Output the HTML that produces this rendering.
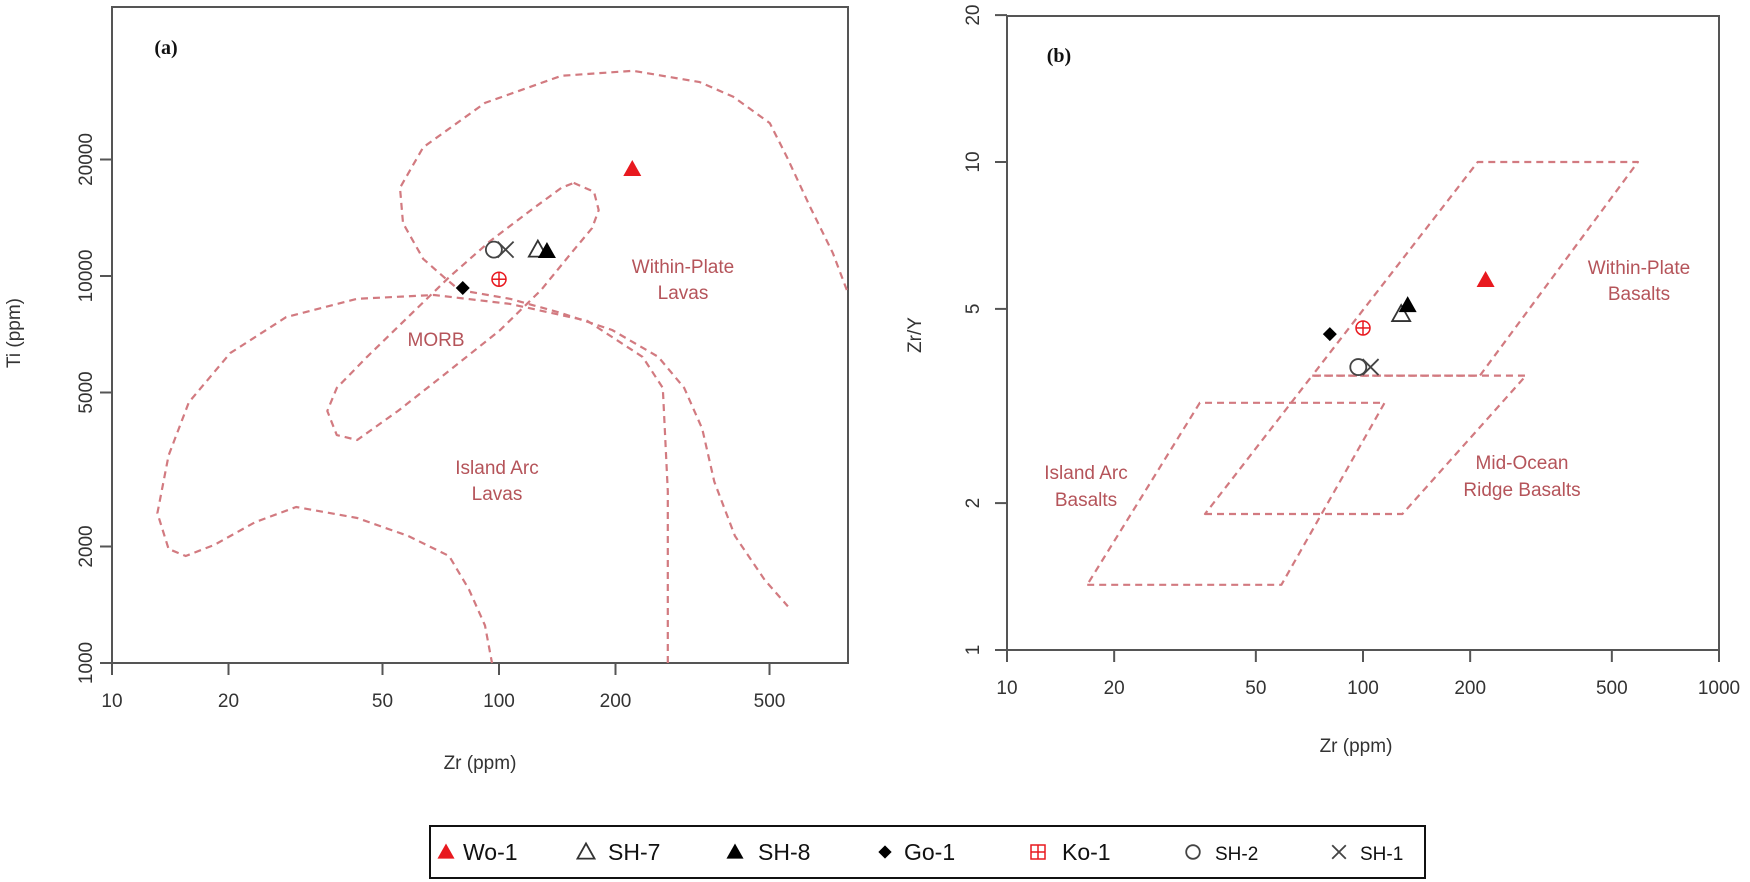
<!DOCTYPE html>
<html><head><meta charset="utf-8"><style>
body{margin:0;background:#fff;}
svg{display:block;font-family:"Liberation Sans",sans-serif;}
.tick{font-size:19px;fill:#333;}
.reg{font-size:19px;fill:#b5545a;}
</style></head><body>
<svg id="chart" width="1750" height="882" viewBox="0 0 1750 882">
<g id="pa"></g>
<g id="pb"></g>
<g id="legend"></g>
</svg>
<script>
// ---- data ----
const samples = ["Wo-1","SH-7","SH-8","Go-1","Ko-1","SH-2","SH-1"];
const zrA = [221,126,133,80.6,100,97,104];
const tiA = [18900,11700,11600,9310,9810,11700,11700];
const zrB = [221,128,133.5,80.7,100,97,105];
const zrYB = [5.73,4.88,5.09,4.44,4.57,3.80,3.80];
const xTicksA = [10,20,50,100,200,500];
const yTicksA = [1000,2000,5000,10000,20000];
const xTicksB = [10,20,50,100,200,500,1000];
const yTicksB = [1,2,5,10,20];
// field boundaries (Zr, Ti)
const wpZr = [792,729,637,555,501,403,330,222,145,92,63.7,55.5,56.5,63.7,72.1,78.9,106.7,145,196,258,301,335,360,407,486,558];
const wpTi = [9200,11450,15070,20280,24830,29040,31700,33900,32900,28000,21500,16900,13700,11070,9930,9200,8730,8020,7250,6180,5140,4030,2940,2130,1640,1400];
const iaZr = [273,273,265,235,169,106.7,67.9,43,28.2,20.2,15.8,14,13.1,14,15.5,18.4,23.4,29.9,43,58.2,74.3,83.6,92,95.9];
const iaTi = [1000,2780,5140,6180,7660,8470,8930,8730,7830,6320,4720,3440,2440,1970,1890,2020,2310,2530,2370,2130,1890,1550,1250,1000];
const mbZr = [156,176,181,174,153,128.5,100.7,74.3,54.8,43,38.1,36,38.1,45.6,58.2,74.3,94.8,121,145];
const mbTi = [17400,16500,14800,13300,11400,9200,7250,5690,4480,3770,3880,4480,5140,6180,7830,9930,12300,14800,16900];
// fields (Zr, Zr/Y)
const iabZr = [16.8,59,115,34.8];
const iabY = [1.36,1.36,3.21,3.21];
const morbZr = [36,129,287,72];
const morbY = [1.9,1.9,3.65,3.65];
const wpbZr = [72,213,592,210];
const wpbY = [3.65,3.65,10,10];

const NS="http://www.w3.org/2000/svg";
function mk(parent,tag,attrs){const e=document.createElementNS(NS,tag);for(const k in attrs)e.setAttribute(k,attrs[k]);parent.appendChild(e);return e;}
const L=Math.log10;
const A={x0:112,x1:848,y0:663,y1:7,sx:v=>112+(L(v)-1)*387,sy:v=>663-(L(v)-3)*387};
const B={x0:1007,x1:1719,y0:650,y1:16,sx:v=>1007+(L(v)-1)*356,sy:v=>650-L(v)*488};

function frame(g,P,xt,yt,ylx){
  const r=mk(g,'rect',{x:P.x0,y:P.y1,width:P.x1-P.x0,height:P.y0-P.y1,fill:'none',stroke:'#555','stroke-width':2});
  
  xt.forEach(v=>{const x=P.sx(v);
    mk(g,'line',{x1:x,x2:x,y1:P.y0,y2:P.y0+12,stroke:'#555','stroke-width':2});
    const t=mk(g,'text',{x:x,y:P.y0+44,'text-anchor':'middle',class:'tick'});t.textContent=v;
    });
  yt.forEach(v=>{const y=P.sy(v);
    mk(g,'line',{x1:P.x0-12,x2:P.x0,y1:y,y2:y,stroke:'#555','stroke-width':2});
    const t=mk(g,'text',{x:0,y:0,'text-anchor':'middle',class:'tick',transform:`translate(${ylx},${y}) rotate(-90)`});t.textContent=v;
    });
}
function field(g,P,xs,ys,closed,name){
  let d=xs.map((v,i)=>(i?'L':'M')+P.sx(v).toFixed(1)+','+P.sy(ys[i]).toFixed(1)).join(' ');
  if(closed)d+=' Z';
  const p=mk(g,'path',{d:d,fill:'none',stroke:'#d27a80','stroke-width':2.2,'stroke-dasharray':'7,5','stroke-linejoin':'round'});
  
}
function label(g,x,y,txt,name,cls,extra){
  const t=mk(g,'text',Object.assign({x:x,y:y,'text-anchor':'middle',class:cls||'reg'},extra||{}));t.textContent=txt;
  return t;
}
function marker(g,i,x,y,s){
  s=s||1;let e;
  if(i===0){e=mk(g,'polygon',{points:`${x},${y-9*s} ${x-9*s},${y+7*s} ${x+9*s},${y+7*s}`,fill:'#e8191f'});}
  else if(i===1){e=mk(g,'polygon',{points:`${x},${y-9*s} ${x-9*s},${y+7*s} ${x+9*s},${y+7*s}`,fill:'none',stroke:'#333','stroke-width':1.8});}
  else if(i===2){e=mk(g,'polygon',{points:`${x},${y-9*s} ${x-9*s},${y+7*s} ${x+9*s},${y+7*s}`,fill:'#000'});}
  else if(i===3){e=mk(g,'polygon',{points:`${x},${y-7*s} ${x+7*s},${y} ${x},${y+7*s} ${x-7*s},${y}`,fill:'#000'});}
  else if(i===4){e=mk(g,'g',{});mk(e,'circle',{cx:x,cy:y,r:7*s,fill:'none',stroke:'#e8191f','stroke-width':1.5});
    mk(e,'line',{x1:x-7*s,x2:x+7*s,y1:y,y2:y,stroke:'#e8191f','stroke-width':1.5});mk(e,'line',{x1:x,x2:x,y1:y-7*s,y2:y+7*s,stroke:'#e8191f','stroke-width':1.5});}
  else if(i===5){e=mk(g,'circle',{cx:x,cy:y,r:8*s,fill:'none',stroke:'#444','stroke-width':1.8});}
  else {e=mk(g,'g',{});mk(e,'line',{x1:x-8*s,x2:x+8*s,y1:y-8*s,y2:y+8*s,stroke:'#444','stroke-width':1.8});mk(e,'line',{x1:x-8*s,x2:x+8*s,y1:y+8*s,y2:y-8*s,stroke:'#444','stroke-width':1.8});}
  return e;
}

// panel a
const pa=document.getElementById('pa');
frame(pa,A,xTicksA,yTicksA,92);
field(pa,A,wpZr,wpTi,false,'within-plate-field');
field(pa,A,iaZr,iaTi,false,'island-arc-field');
field(pa,A,mbZr,mbTi,true,'morb-field');
label(pa,166,54,'(a)','panel-a-label','',{style:'font:bold 20px "Liberation Serif",serif;fill:#111'});
label(pa,683,273,'Within-Plate','within-plate-label');
label(pa,683,299,'Lavas','within-plate-label-2');
label(pa,436,346,'MORB','morb-label');
label(pa,497,474,'Island Arc','island-arc-label');
label(pa,497,500,'Lavas','island-arc-label-2');
label(pa,480,769,'Zr (ppm)','x-axis-title-a','tick');
label(pa,0,0,'Ti (ppm)','y-axis-title-a','tick',{transform:'translate(20,333) rotate(-90)'});
samples.forEach((s,i)=>{const m=marker(pa,i,A.sx(zrA[i]),A.sy(tiA[i]));
  });

// panel b
const pb=document.getElementById('pb');
frame(pb,B,xTicksB,yTicksB,979);
field(pb,B,iabZr,iabY,true,'island-arc-basalt-field');
field(pb,B,morbZr,morbY,true,'mid-ocean-ridge-field');
field(pb,B,wpbZr,wpbY,true,'within-plate-basalt-field');
label(pb,1059,62,'(b)','panel-b-label','',{style:'font:bold 20px "Liberation Serif",serif;fill:#111'});
label(pb,1639,274,'Within-Plate','wpb-label');
label(pb,1639,300,'Basalts','wpb-label-2');
label(pb,1522,469,'Mid-Ocean','morb-label-b');
label(pb,1522,496,'Ridge Basalts','morb-label-b-2');
label(pb,1086,479,'Island Arc','iab-label');
label(pb,1086,506,'Basalts','iab-label-2');
label(pb,1356,752,'Zr (ppm)','x-axis-title-b','tick');
label(pb,0,0,'Zr/Y','y-axis-title-b','tick',{transform:'translate(921,335) rotate(-90)'});
samples.forEach((s,i)=>{const m=marker(pb,i,B.sx(zrB[i]),B.sy(zrYB[i]));
  });

// legend
const lg=document.getElementById('legend');
const lr=mk(lg,'rect',{x:430,y:826,width:995,height:52,fill:'#fff',stroke:'#111','stroke-width':2});

const mxs=[446,586,735,885,1038,1193,1339];
const txs=[463,608,758,904,1062,1215,1360];
const ly=852;
samples.forEach((s,i)=>{
  let m;
  if(i===4){m=mk(lg,'g',{});mk(m,'rect',{x:mxs[i]-7,y:ly-7,width:14,height:14,fill:'none',stroke:'#e8191f','stroke-width':1.5});
    mk(m,'line',{x1:mxs[i]-7,x2:mxs[i]+7,y1:ly,y2:ly,stroke:'#e8191f','stroke-width':1.5});mk(m,'line',{x1:mxs[i],x2:mxs[i],y1:ly-7,y2:ly+7,stroke:'#e8191f','stroke-width':1.5});}
  else m=marker(lg,i,mxs[i],ly,(i>=5)?0.85:0.95);
  
  const t=mk(lg,'text',{x:txs[i],y:ly+8,style:`font-size:${i>=5?19:23}px;fill:#111`});t.textContent=s;
  
});
</script>
</body></html>
